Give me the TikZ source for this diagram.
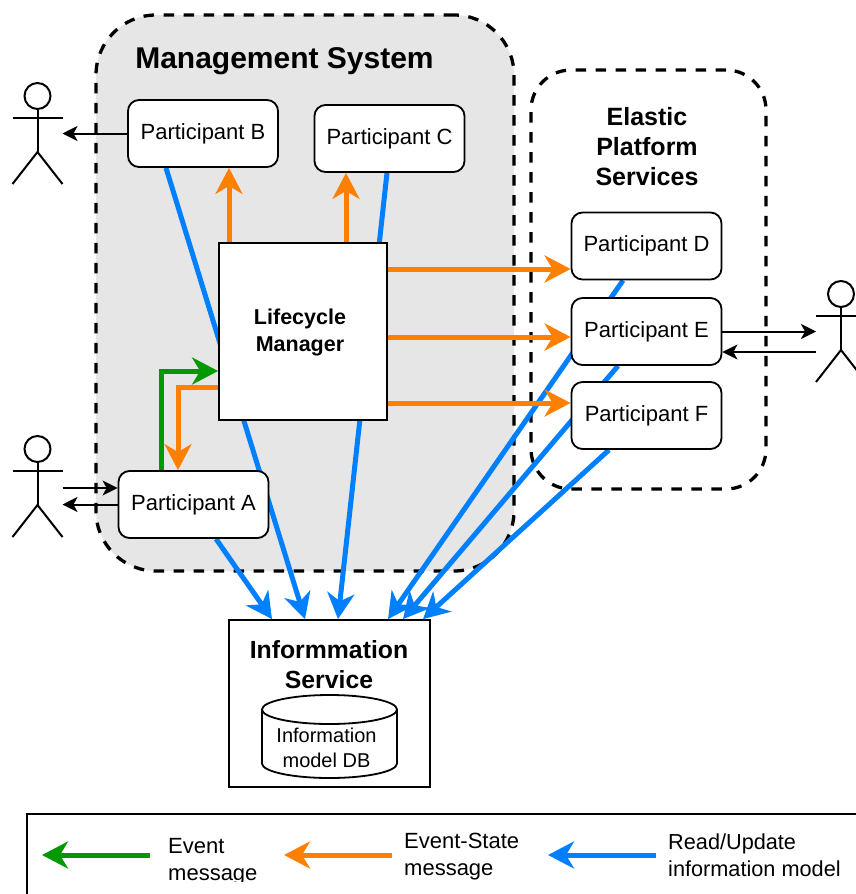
\documentclass[tikz,border=0pt]{standalone}
\usepackage{fontspec}
\setmainfont{Liberation Sans}
\usetikzlibrary{arrows.meta,backgrounds}
\definecolor{mgray}{HTML}{E6E6E6}
\definecolor{mblue}{HTML}{007FFF}
\definecolor{morange}{HTML}{FF8000}
\definecolor{mgreen}{HTML}{009900}
\tikzset{pnode/.style = {shape = rectangle,
                                    draw,
                                    fill = white,
                                    line width = 1.8pt,
                                    rounded corners = 11pt,
                                    inner sep = 0pt,
                                    minimum width = 150pt,
                                    minimum height = 67pt,
                                    font=\fontsize{22}{26}\selectfont},
	boxnode/.style = {shape = rectangle,
                                    draw,
                                    fill = white,
                                    line width = 1.8pt,
                                    inner sep = 0pt,
                                    align = center},
	zone/.style = {shape = rectangle,
                                    draw,
                                    line width = 3.3pt,
                                    dash pattern = on 10.5pt off 9.5pt,
                                    inner sep = 0pt},
	title/.style = {align = center, inner sep = 0pt},
	bigarrow/.style = {draw, line width = 5pt, -{Stealth[length=26pt,width=27pt,inset=8pt]}},
	blueline/.style = {bigarrow, color = mblue},
	orangeline/.style = {bigarrow, color = morange},
	greenline/.style = {bigarrow, color = mgreen},
	thinline/.style = {draw, line width = 2pt, -{Stealth[length=15pt,width=15pt,inset=4pt]}},
	actorbox/.style = {shape = rectangle, inner sep = 0pt, outer sep = 0pt, minimum width = 50pt, minimum height = 101pt},
	legendtext/.style = {align = left, anchor = west, inner sep = 0pt, font=\fontsize{22}{27}\selectfont}}
\newcommand{\actorfig}[2]{
	\node[actorbox] (#1) at (#2) {};
	\begin{scope}[shift={(#2)}, line width = 2pt]
		\draw (0,-37.5) circle (13);
		\draw (-25,-16) -- (25,-16);
		\draw (0,-24.5) -- (0,18.5);
		\draw (-25,50.5) -- (0,18.5) -- (25,50.5);
	\end{scope}
}
\begin{document}
\begin{tikzpicture}[x=1pt,y=-1pt]
		\useasboundingbox (0,0) rectangle (856,894);
		\clip (0,0) rectangle (856,894);

		\node[pnode] (partB) at (203,133.5) {Participant B};
		\node[pnode] (partC) at (389.5,138.5) {Participant C};
		\node[pnode] (partD) at (646.5,246) {Participant D};
		\node[pnode] (partE) at (646.5,331.5) {Participant E};
		\node[pnode] (partF) at (646.5,415.5) {Participant F};
		\node[pnode] (partA) at (193.5,504.5) {Participant A};
		\node[boxnode, minimum width = 168pt, minimum height = 177pt] (lifecycle) at (303,331.5) {};
		\node[title, font=\fontsize{21.5}{27}\selectfont\bfseries] (lifecycleTitle) at (300,332.5) {Lifecycle\\Manager};
		\node[boxnode, minimum width = 201pt, minimum height = 167pt] (infoService) at (329.5,703.5) {};
		\node[title, font=\fontsize{24.8}{30}\selectfont\bfseries] (infoTitle) at (329,665) {Informmation\\Service};
		\draw[line width = 1.8pt, fill = white] (262,709.5) -- (262,763.5) arc[start angle=180, end angle=0, x radius=67.5, y radius=14.5] -- (397,709.5);
		\draw[line width = 1.8pt, fill = white] (329.5,709.5) ellipse (67.5 and 14.5);
		\node[title, font=\fontsize{20}{25}\selectfont] (infoDB) at (326.5,747.5) {Information\\model DB};

		\node[title, font=\fontsize{30}{36}\selectfont\bfseries] (mgmtTitle) at (284.5,61) {Management System};
		\node[title, font=\fontsize{25}{30}\selectfont\bfseries] (elasticTitle) at (647,147) {Elastic\\Platform\\Services};

		\actorfig{actorB}{37.5,133.5}
		\actorfig{actorA}{37.5,486.5}
		\actorfig{actorE}{841,331.5}

		\begin{scope}[on background layer]
			\node[zone, fill = mgray, rounded corners = 60pt, minimum width = 418pt, minimum height = 556pt] (mgmtSystem) at (305,293) {};
			\node[zone, rounded corners = 40pt, minimum width = 235pt, minimum height = 419pt] (elasticZone) at (648.5,279.5) {};

			\path ([xshift=-37pt]partB.south) edge[blueline] ([xshift=-24.5pt]infoService.north);
			\path ([xshift=-2.5pt]partC.south) edge[blueline] ([xshift=8.5pt]infoService.north);
			\path ([xshift=22.5pt]partA.south) edge[blueline] ([xshift=-57.5pt]infoService.north);
			\path ([xshift=-23.5pt]partD.south) edge[blueline] ([xshift=58.5pt]infoService.north);
			\path ([xshift=-28.5pt]partE.south) edge[blueline] ([xshift=73.5pt]infoService.north);
			\path ([xshift=-37.5pt]partF.south) edge[blueline] ([xshift=93.5pt]infoService.north);

			\path ([xshift=-74pt]lifecycle.north) edge[orangeline] ([xshift=26pt]partB.south);
			\path ([xshift=43pt]lifecycle.north) edge[orangeline] ([xshift=-43.5pt]partC.south);
			\path ([yshift=62.5pt]lifecycle.east) edge[orangeline] ([yshift=-23pt]partD.west);
			\path ([yshift=-5.5pt]lifecycle.east) edge[orangeline] ([yshift=-5.5pt]partE.west);
			\path ([yshift=-71.5pt]lifecycle.east) edge[orangeline] ([yshift=12.5pt]partF.west);
			\draw[orangeline] ([yshift=-55.5pt]lifecycle.west) -| ([xshift=-15.5pt]partA.north);
			\draw[greenline] ([xshift=-32.5pt]partA.north) |- ([yshift=-39.5pt]lifecycle.west);

			\path (partB.west) edge[thinline] (actorB.east);
			\path ([yshift=-1.5pt]actorA.east) edge[thinline] ([yshift=16.5pt]partA.west);
			\path (partA.west) edge[thinline] ([yshift=-18pt]actorA.east);
			\path (partE.east) edge[thinline] (actorE.west);
			\path ([yshift=-20.5pt]actorE.west) edge[thinline] ([yshift=-20.5pt]partE.east);
		\end{scope}

		\node[shape = rectangle, draw, line width = 2pt, inner sep = 0pt, minimum width = 900pt, minimum height = 150pt] (legendBox) at (477,889) {};
		\coordinate (greenEnd) at (150,855);
		\coordinate (greenTip) at (42,855);
		\coordinate (orangeEnd) at (392,855);
		\coordinate (orangeTip) at (284,855);
		\coordinate (blueEnd) at (656,855);
		\coordinate (blueTip) at (548,855);
		\path (greenEnd) edge[greenline] (greenTip);
		\path (orangeEnd) edge[orangeline] (orangeTip);
		\path (blueEnd) edge[blueline] (blueTip);
		\begin{scope}
			\clip (160,820) rectangle (300,881);
			\node[legendtext] (legendEvent) at (168,862) {Event\\message};
		\end{scope}
		\node[legendtext] (legendState) at (404,857) {Event-State\\message};
		\node[legendtext, font=\fontsize{21.7}{27}\selectfont] (legendRead) at (668,855) {Read/Update\\information model};
	\end{tikzpicture}
\end{document}
